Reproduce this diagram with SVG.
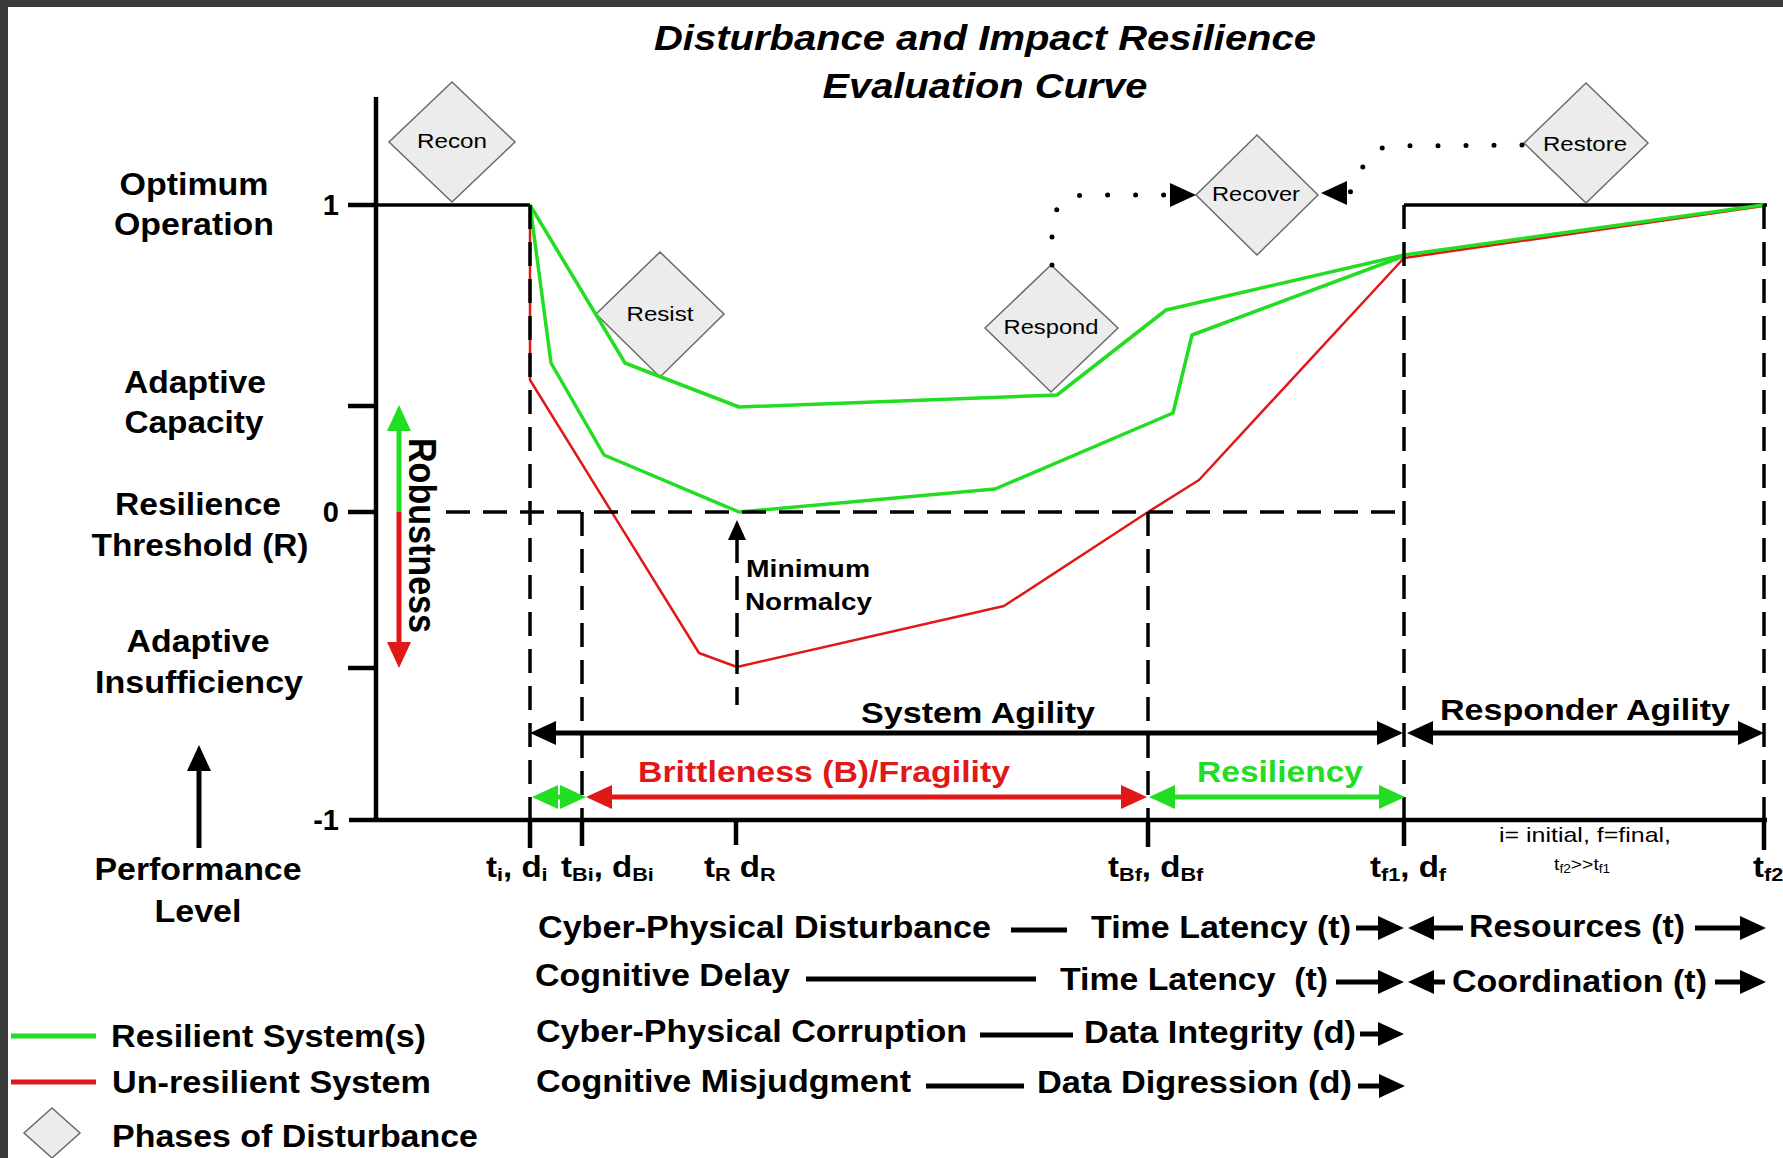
<svg xmlns="http://www.w3.org/2000/svg" width="1783" height="1158" viewBox="0 0 1783 1158">
<style>
text{font-family:"Liberation Sans",Arial,Helvetica,sans-serif;fill:#000}
.t{font-weight:bold;font-size:31px}
.title{font-weight:bold;font-style:italic;font-size:35px}
.num{font-weight:bold;font-size:29px;text-anchor:end}
.lab{font-weight:bold;font-size:29px}
.sb{font-size:19px}
.sm{font-size:17px;font-weight:normal}
.sms{font-size:12px}
.note{font-size:21px;font-weight:normal}
.mid{text-anchor:middle}
.dia polygon{fill:#ececec;stroke:#6b6b6b;stroke-width:1.5}
.dia text{font-size:21px;text-anchor:middle}
.ax{stroke:#000;stroke-width:4.5;fill:none}
.opt{stroke:#000;stroke-width:3.5;fill:none}
.dash{stroke:#000;stroke-width:3.5;stroke-dasharray:24 13;fill:none}
.g{stroke:#22dd22;stroke-width:3.5;fill:none;stroke-linejoin:round}
.r{stroke:#e01818;stroke-width:2.5;fill:none;stroke-linejoin:round}
.ar{stroke:#000;stroke-width:5;fill:none}
.arg{stroke:#22dd22;stroke-width:5;fill:none}
.arr{stroke:#e01818;stroke-width:5;fill:none}
.dot{stroke:#000;stroke-width:5;fill:none;stroke-linecap:round;stroke-dasharray:0 28}
</style>
<defs>
<marker id="mb" markerUnits="userSpaceOnUse" markerWidth="27" markerHeight="25" refX="4" refY="12" orient="auto-start-reverse" overflow="visible"><path d="M0,0 L26,12 L0,24 Z" fill="#000"/></marker>
<marker id="mg" markerUnits="userSpaceOnUse" markerWidth="27" markerHeight="25" refX="4" refY="12" orient="auto-start-reverse" overflow="visible"><path d="M0,0 L26,12 L0,24 Z" fill="#22dd22"/></marker>
<marker id="mr" markerUnits="userSpaceOnUse" markerWidth="27" markerHeight="25" refX="4" refY="12" orient="auto-start-reverse" overflow="visible"><path d="M0,0 L26,12 L0,24 Z" fill="#e01818"/></marker>
<marker id="ms" markerUnits="userSpaceOnUse" markerWidth="21" markerHeight="19" refX="3" refY="9" orient="auto" overflow="visible"><path d="M0,0 L20,9 L0,18 Z" fill="#000"/></marker>
</defs>
<rect x="0" y="0" width="1783" height="1158" fill="#fff"/>
<rect x="0" y="0" width="1783" height="7" fill="#3b3b3b"/>
<rect x="0" y="0" width="8" height="1158" fill="#3b3b3b"/>

<g id="title">
<text class="title" x="985" y="50" text-anchor="middle" textLength="662" lengthAdjust="spacingAndGlyphs">Disturbance and Impact Resilience</text>
<text class="title" x="985" y="98" text-anchor="middle" textLength="325" lengthAdjust="spacingAndGlyphs">Evaluation Curve</text>
</g>

<g id="axes">
<line class="ax" x1="376" y1="97" x2="376" y2="822"/>
<line class="ax" x1="349" y1="820" x2="1767" y2="820"/>
<line class="ax" x1="348" y1="205" x2="376" y2="205"/>
<line class="ax" x1="348" y1="406" x2="376" y2="406"/>
<line class="ax" x1="348" y1="512" x2="376" y2="512"/>
<line class="ax" x1="348" y1="668" x2="376" y2="668"/>
<line class="ax" x1="530" y1="820" x2="530" y2="848"/>
<line class="ax" x1="582" y1="820" x2="582" y2="846"/>
<line class="ax" x1="736" y1="820" x2="736" y2="845"/>
<line class="ax" x1="1148" y1="820" x2="1148" y2="847"/>
<line class="ax" x1="1404" y1="820" x2="1404" y2="846"/>
<line class="ax" x1="1764" y1="820" x2="1764" y2="850"/>
<line class="opt" x1="376" y1="205" x2="530" y2="205"/>
<line class="opt" x1="1404" y1="205" x2="1767" y2="205"/>
<text class="num" x="339" y="215">1</text>
<text class="num" x="339" y="522">0</text>
<text class="num" x="339" y="830">-1</text>
</g>

<g id="node-recon" class="dia"><polygon points="452,82 515,142 452,202 389,142"/><text x="452" y="148" textLength="70" lengthAdjust="spacingAndGlyphs">Recon</text></g>
<g id="node-resist" class="dia"><polygon points="660,252 724,314 660,377 596,314"/><text x="660" y="321" textLength="67" lengthAdjust="spacingAndGlyphs">Resist</text></g>
<g id="node-respond" class="dia"><polygon points="1051,265 1118,328 1051,392 985,328"/><text x="1051" y="334" textLength="95" lengthAdjust="spacingAndGlyphs">Respond</text></g>
<g id="node-recover" class="dia"><polygon points="1257,135 1318,195 1257,255 1196,195"/><text x="1256" y="201" textLength="88" lengthAdjust="spacingAndGlyphs">Recover</text></g>
<g id="node-restore" class="dia"><polygon points="1586,83 1648,143 1586,203 1524,143"/><text x="1585" y="151" textLength="84" lengthAdjust="spacingAndGlyphs">Restore</text></g>

<g id="curves">
<polyline class="r" points="530,205 530,380 699,653 737,667 1004,606 1148,512 1199,480 1404,258 1763,206"/>
<polyline class="g" points="530,205 551,363 604,455 739,512 995,489 1173,413 1192,335 1404,256"/>
<polyline class="g" points="530,205 625,363 661,377 739,407 1057,395 1166,310 1404,255 1763,205"/>
</g>

<g id="grid">
<line class="dash" x1="530" y1="205" x2="530" y2="820"/>
<line class="dash" x1="582" y1="512" x2="582" y2="820"/>
<line class="dash" x1="737" y1="539" x2="737" y2="705"/>
<line class="dash" x1="1148" y1="512" x2="1148" y2="820"/>
<line class="dash" x1="1404" y1="205" x2="1404" y2="820"/>
<line class="dash" x1="1764" y1="205" x2="1764" y2="820"/>
<line class="dash" x1="446" y1="512" x2="1404" y2="512"/>
</g>

<g id="connectors">
<path class="dot" d="M1052,265 L1052,232 Q1052,196 1085,195 L1172,195"/>
<line x1="1172" y1="195" x2="1174" y2="195" stroke="#000" stroke-width="1" marker-end="url(#mb)"/>
<path class="dot" d="M1522,145 L1388,146 Q1366,152 1360,175 Q1356,193 1345,193"/>
<line x1="1345" y1="193" x2="1343" y2="193" stroke="#000" stroke-width="1" marker-end="url(#mb)"/>
<line class="ar" x1="737" y1="540" x2="737" y2="537" marker-end="url(#ms)"/>
<line class="arg" x1="399" y1="512" x2="399" y2="427" marker-end="url(#mg)"/>
<line class="arr" x1="399" y1="512" x2="399" y2="646" marker-end="url(#mr)"/>
<line class="ar" x1="199" y1="848" x2="199" y2="767" marker-end="url(#mb)"/>
<line class="ar" x1="552" y1="733" x2="1381" y2="733" marker-start="url(#mb)" marker-end="url(#mb)"/>
<line class="ar" x1="1429" y1="733" x2="1742" y2="733" marker-start="url(#mb)" marker-end="url(#mb)"/>
<line class="arr" x1="608" y1="797" x2="1125" y2="797" marker-start="url(#mr)" marker-end="url(#mr)"/>
<line class="arg" x1="1171" y1="797" x2="1383" y2="797" marker-start="url(#mg)" marker-end="url(#mg)"/>
<line class="arg" x1="554" y1="797" x2="564" y2="797" marker-start="url(#mg)" marker-end="url(#mg)"/>
<line class="ar" x1="1356" y1="928" x2="1382" y2="928" marker-end="url(#mb)"/>
<line class="ar" x1="1463" y1="928" x2="1430" y2="928" marker-end="url(#mb)"/>
<line class="ar" x1="1695" y1="928" x2="1744" y2="928" marker-end="url(#mb)"/>
<line class="ar" x1="1336" y1="982" x2="1382" y2="982" marker-end="url(#mb)"/>
<line class="ar" x1="1445" y1="982" x2="1430" y2="982" marker-end="url(#mb)"/>
<line class="ar" x1="1715" y1="982" x2="1744" y2="982" marker-end="url(#mb)"/>
<line class="ar" x1="1360" y1="1034" x2="1382" y2="1034" marker-end="url(#mb)"/>
<line class="ar" x1="1358" y1="1086" x2="1383" y2="1086" marker-end="url(#mb)"/>
<line class="ar" x1="1011" y1="930" x2="1067" y2="930"/>
<line class="ar" x1="806" y1="979" x2="1036" y2="979"/>
<line class="ar" x1="980" y1="1035" x2="1073" y2="1035"/>
<line class="ar" x1="926" y1="1086" x2="1024" y2="1086"/>
</g>

<g id="labels">
<text class="t mid" x="194" y="195" textLength="149" lengthAdjust="spacingAndGlyphs">Optimum</text>
<text class="t mid" x="194" y="235" textLength="160" lengthAdjust="spacingAndGlyphs">Operation</text>
<text class="t mid" x="195" y="393" textLength="142" lengthAdjust="spacingAndGlyphs">Adaptive</text>
<text class="t mid" x="194" y="433" textLength="139" lengthAdjust="spacingAndGlyphs">Capacity</text>
<text class="t mid" x="198" y="515" textLength="166" lengthAdjust="spacingAndGlyphs">Resilience</text>
<text class="t mid" x="200" y="556" textLength="217" lengthAdjust="spacingAndGlyphs">Threshold (R)</text>
<text class="t mid" x="198" y="652" textLength="143" lengthAdjust="spacingAndGlyphs">Adaptive</text>
<text class="t mid" x="199" y="693" textLength="208" lengthAdjust="spacingAndGlyphs">Insufficiency</text>
<text class="t mid" x="198" y="880" textLength="207" lengthAdjust="spacingAndGlyphs">Performance</text>
<text class="t mid" x="198" y="922" textLength="87" lengthAdjust="spacingAndGlyphs">Level</text>
<text class="t" transform="translate(409 438) rotate(90) scale(1 1.14)" textLength="195" lengthAdjust="spacingAndGlyphs" style="font-size:34px">Robustness</text>
<text class="t" x="746" y="577" style="font-size:24px" textLength="124" lengthAdjust="spacingAndGlyphs">Minimum</text>
<text class="t" x="745" y="610" style="font-size:24px" textLength="127" lengthAdjust="spacingAndGlyphs">Normalcy</text>
<text class="lab" x="861" y="723" textLength="234" lengthAdjust="spacingAndGlyphs">System Agility</text>
<text class="lab" x="1440" y="720" textLength="290" lengthAdjust="spacingAndGlyphs">Responder Agility</text>
<text class="lab" x="638" y="782" textLength="372" lengthAdjust="spacingAndGlyphs" style="fill:#e01818">Brittleness (B)/Fragility</text>
<text class="lab" x="1197" y="782" textLength="166" lengthAdjust="spacingAndGlyphs" style="fill:#22dd22">Resiliency</text>
<text class="lab" transform="translate(486 877) scale(1.14 1)">t<tspan class="sb" dy="4">i</tspan><tspan dy="-4">, d</tspan><tspan class="sb" dy="4">i</tspan></text>
<text class="lab" transform="translate(561 877) scale(1.14 1)">t<tspan class="sb" dy="4">Bi</tspan><tspan dy="-4">, d</tspan><tspan class="sb" dy="4">Bi</tspan></text>
<text class="lab" transform="translate(704 877) scale(1.14 1)">t<tspan class="sb" dy="4">R</tspan><tspan dy="-4"> d</tspan><tspan class="sb" dy="4">R</tspan></text>
<text class="lab" transform="translate(1108 877) scale(1.14 1)">t<tspan class="sb" dy="4">Bf</tspan><tspan dy="-4">, d</tspan><tspan class="sb" dy="4">Bf</tspan></text>
<text class="lab" transform="translate(1370 877) scale(1.14 1)">t<tspan class="sb" dy="4">f1</tspan><tspan dy="-4">, d</tspan><tspan class="sb" dy="4">f</tspan></text>
<text class="lab" transform="translate(1753 877) scale(1.14 1)">t<tspan class="sb" dy="4">f2</tspan></text>
<text class="note" x="1499" y="842" textLength="172" lengthAdjust="spacingAndGlyphs">i= initial, f=final,</text>
<text class="sm" transform="translate(1554 870) scale(1.14 1)">t<tspan class="sms" dy="3">f2</tspan><tspan dy="-3">&gt;&gt;t</tspan><tspan class="sms" dy="3">f1</tspan></text>
<text class="t" x="538" y="938" textLength="453" lengthAdjust="spacingAndGlyphs">Cyber-Physical Disturbance</text>
<text class="t" x="535" y="986" textLength="255" lengthAdjust="spacingAndGlyphs">Cognitive Delay</text>
<text class="t" x="536" y="1042" textLength="431" lengthAdjust="spacingAndGlyphs">Cyber-Physical Corruption</text>
<text class="t" x="536" y="1092" textLength="375" lengthAdjust="spacingAndGlyphs">Cognitive Misjudgment</text>
<text class="t" x="1091" y="938" textLength="260" lengthAdjust="spacingAndGlyphs">Time Latency (t)</text>
<text class="t" x="1060" y="990" textLength="268" lengthAdjust="spacingAndGlyphs" xml:space="preserve">Time Latency  (t)</text>
<text class="t" x="1084" y="1043" textLength="272" lengthAdjust="spacingAndGlyphs">Data Integrity (d)</text>
<text class="t" x="1037" y="1093" textLength="315" lengthAdjust="spacingAndGlyphs">Data Digression (d)</text>
<text class="t" x="1469" y="937" textLength="216" lengthAdjust="spacingAndGlyphs">Resources (t)</text>
<text class="t" x="1452" y="992" textLength="255" lengthAdjust="spacingAndGlyphs">Coordination (t)</text>
</g>

<g id="legend">
<line x1="11" y1="1036" x2="96" y2="1036" stroke="#22dd22" stroke-width="5"/>
<line x1="11" y1="1082" x2="96" y2="1082" stroke="#e01818" stroke-width="5"/>
<g id="legend-diamond" class="dia"><polygon points="52,1108 80,1133 52,1158 24,1133"/></g>
<text class="t" x="111" y="1047" textLength="315" lengthAdjust="spacingAndGlyphs">Resilient System(s)</text>
<text class="t" x="112" y="1093" textLength="319" lengthAdjust="spacingAndGlyphs">Un-resilient System</text>
<text class="t" x="112" y="1147" textLength="366" lengthAdjust="spacingAndGlyphs">Phases of Disturbance</text>
</g>
</svg>
